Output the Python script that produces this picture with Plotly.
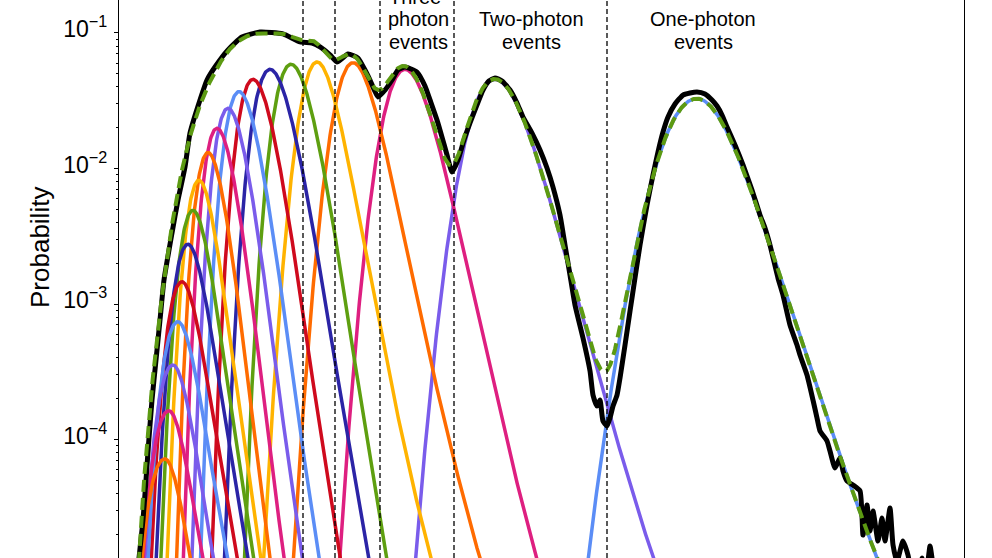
import numpy as np
import plotly.graph_objects as go

# ---------------- data ----------------
# n-photon components (n = 1 ... 20): peak channel, peak probability,
# relative widths (low-channel side / high-channel side) and tail steepness
component_channel = [697, 495, 405, 353, 317, 291, 270, 253, 239, 228,
                     217, 208, 199, 193, 188, 182, 178, 173, 169, 165]
component_peak = [0.0328, 0.0455, 0.0539, 0.0604, 0.0611, 0.0588, 0.0539, 0.0455, 0.0369, 0.0278,
                  0.0198, 0.0131, 0.00818, 0.00491, 0.00276, 0.00146, 7.4e-4, 3.55e-4, 1.63e-4, 7.2e-5]
width_low_side = [0.22, 0.30, 0.30, 0.25, 0.25, 0.866, 0.939, 0.913, 0.913, 0.913,
                  0.913, 0.913, 0.50, 0.555, 0.603, 0.649, 0.707, 0.756, 0.803, 0.877]
width_high_side = [0.20, 0.30, 0.30, 0.25, 0.25, 0.866, 0.939, 0.913, 0.913, 0.913,
                   0.913, 0.913, 0.471, 0.50, 0.535, 0.555, 0.577, 0.577, 0.59, 0.603]
tail_low_side = [3.0, 4.68, 4.68, 3.25, 3.25, 30, 30, 30, 30, 30,
                 30, 30, 8, 8, 8, 8, 8, 8, 8, 8]
tail_high_side = [3.04, 4.68, 4.68, 3.25, 3.25, 30, 30, 30, 30, 30,
                  30, 30, 8, 8, 8, 8, 8, 8, 8, 8]
channel_origin = 12

color_cycle = ["#5B8DF6", "#7A5CEB", "#DE1F80", "#FF6B00",
               "#FFB300", "#5E9F10", "#2B24A6", "#CF0A1D"]

# measured histogram (black)
black_channel = [137, 139, 143, 146, 149, 152, 156, 160, 164, 172,
                 178, 185, 190, 200, 207, 215, 228, 242, 260, 283,
                 300, 312, 320, 330, 337, 348, 358, 365, 370, 378,
                 385, 392, 398, 405, 417, 425, 430, 437, 442, 447,
                 452, 458, 464, 470, 477, 483, 489, 495, 502, 510,
                 517, 523, 532, 540, 547, 553, 560, 565, 570, 575,
                 583, 590, 593, 597, 600, 603, 607, 610, 613, 617,
                 620, 625, 630, 635, 640, 647, 653, 658, 663, 668,
                 675, 683, 690, 697, 705, 712, 717, 722, 727, 735,
                 743, 752, 760, 765, 770, 778, 783, 790, 797, 800,
                 807, 813, 817, 820, 827, 830, 835, 840, 843, 847,
                 853, 860, 863, 867, 870, 873, 878, 882, 885, 890,
                 893, 897, 903, 908, 912, 918, 922, 926, 930, 932,
                 935]
black_log10_prob = [-5.0, -4.875, -4.594, -4.299, -3.989, -3.709, -3.413, -3.118, -2.823, -2.476,
                    -2.232, -1.989, -1.738, -1.494, -1.347, -1.251, -1.125, -1.030, -0.993, -1.007,
                    -1.066, -1.074, -1.103, -1.162, -1.214, -1.155, -1.185, -1.273, -1.347, -1.472,
                    -1.421, -1.347, -1.273, -1.251, -1.288, -1.391, -1.494, -1.642, -1.768, -1.900,
                    -2.026, -1.937, -1.790, -1.664, -1.531, -1.421, -1.354, -1.332, -1.354, -1.421,
                    -1.517, -1.620, -1.739, -1.863, -1.996, -2.137, -2.343, -2.565, -2.786, -3.007,
                    -3.251, -3.494, -3.672, -3.753, -3.709, -3.864, -3.901, -3.841, -3.753, -3.672,
                    -3.546, -3.303, -3.052, -2.808, -2.565, -2.269, -2.048, -1.878, -1.731, -1.620,
                    -1.524, -1.458, -1.443, -1.435, -1.450, -1.494, -1.539, -1.605, -1.694, -1.827,
                    -1.974, -2.159, -2.343, -2.439, -2.565, -2.808, -2.934, -3.155, -3.303, -3.376,
                    -3.524, -3.709, -3.841, -3.937, -4.011, -4.085, -4.210, -4.137, -4.232, -4.306,
                    -4.336, -4.380, -4.705, -4.483, -4.675, -4.528, -4.749, -4.579, -4.749, -4.506,
                    -4.778, -4.900, -4.749, -4.853, -5.0, -5.05, -4.875, -5.0, -4.786, -4.875,
                    -5.1]

boundary_channels = [303, 335, 380, 454, 607]
region_label_channel = [418, 531, 703]
region_label_lines = [["Three-", "photon", "events"],
                      ["Two-photon", "events"],
                      ["One-photon", "events"]]

FONT = "Liberation Sans, Arial, Helvetica, sans-serif"

# ---------------- model curves ----------------
x = np.arange(119.0, 964.01, 0.5)


def peak_curve(c, h, s_lo, s_hi, b_lo, b_hi):
    r = ((c - channel_origin) / (x - channel_origin)) ** 2
    low = x < c
    s = np.where(low, s_lo, s_hi)
    b = np.where(low, b_lo, b_hi)
    z = (r - 1.0) / s
    return h * 10.0 ** (-b * (np.sqrt(1.0 + z * z) - 1.0))


comps = [peak_curve(*p) for p in zip(component_channel, component_peak,
                                     width_low_side, width_high_side,
                                     tail_low_side, tail_high_side)]
total = np.sum(comps, axis=0)

fig = go.Figure()
for i, yv in enumerate(comps):
    keep = yv > 1e-7
    fig.add_trace(go.Scatter(x=x[keep], y=yv[keep], mode="lines",
                             line=dict(color=color_cycle[i % 8], width=3.5),
                             hoverinfo="skip", showlegend=False))

fig.add_trace(go.Scatter(x=black_channel, y=10.0 ** np.array(black_log10_prob), mode="lines",
                         line=dict(color="black", width=5, shape="spline", smoothing=0.5),
                         showlegend=False))

keep = total > 1e-7
fig.add_trace(go.Scatter(x=x[keep], y=total[keep], mode="lines",
                         line=dict(color="#5C9A12", width=4, dash="12px,6px"),
                         showlegend=False))

shapes = [dict(type="line", xref="x", yref="paper", x0=b, x1=b, y0=0, y1=1,
               line=dict(color="black", width=1.3, dash="5px,3px"), layer="above")
          for b in boundary_channels]

H = 558.0
annotations = []
line_baselines = {3: [2.5, 25, 47.5], 2: [25, 47.5]}
for cx, lines in zip(region_label_channel, region_label_lines):
    bases = line_baselines[len(lines)]
    for txt, base in zip(lines, bases):
        annotations.append(dict(x=cx, xref="x", y=1 - (base - 6) / H, yref="paper",
                                text=txt, showarrow=False, xanchor="center", yanchor="middle",
                                borderpad=0,
                                font=dict(family=FONT, size=20, color="black")))
annotations.append(dict(x=(40 - 119) / 845.0, xref="paper", y=1 - 248 / H, yref="paper",
                        text="Probability", textangle=-90, showarrow=False,
                        xanchor="center", yanchor="middle",
                        font=dict(family=FONT, size=26, color="black")))

fig.update_layout(
    width=992, height=558,
    margin=dict(l=119, r=28, t=0, b=0),
    paper_bgcolor="white", plot_bgcolor="white",
    showlegend=False,
    shapes=shapes, annotations=annotations,
    xaxis=dict(range=[119, 964], visible=False, automargin=False),
    yaxis=dict(type="log", range=[-4.8745, -0.7565], dtick=1, exponentformat="power",
               showline=True, linecolor="black", linewidth=1, mirror=True,
               ticks="outside", ticklen=4, tickwidth=1, tickcolor="black",
               ticklabelstandoff=3, ticklabelshift=-4,
               tickfont=dict(family=FONT, size=18.5, color="black"),
               showgrid=False, zeroline=False, automargin=False,
               minor=dict(ticks="outside", dtick="D1", ticklen=2.5, tickwidth=1,
                          tickcolor="black", showgrid=False)),
)

fig.write_html("out.html", config={"displayModeBar": False},
               post_script="document.body.style.margin='0';document.body.style.overflow='hidden';")
